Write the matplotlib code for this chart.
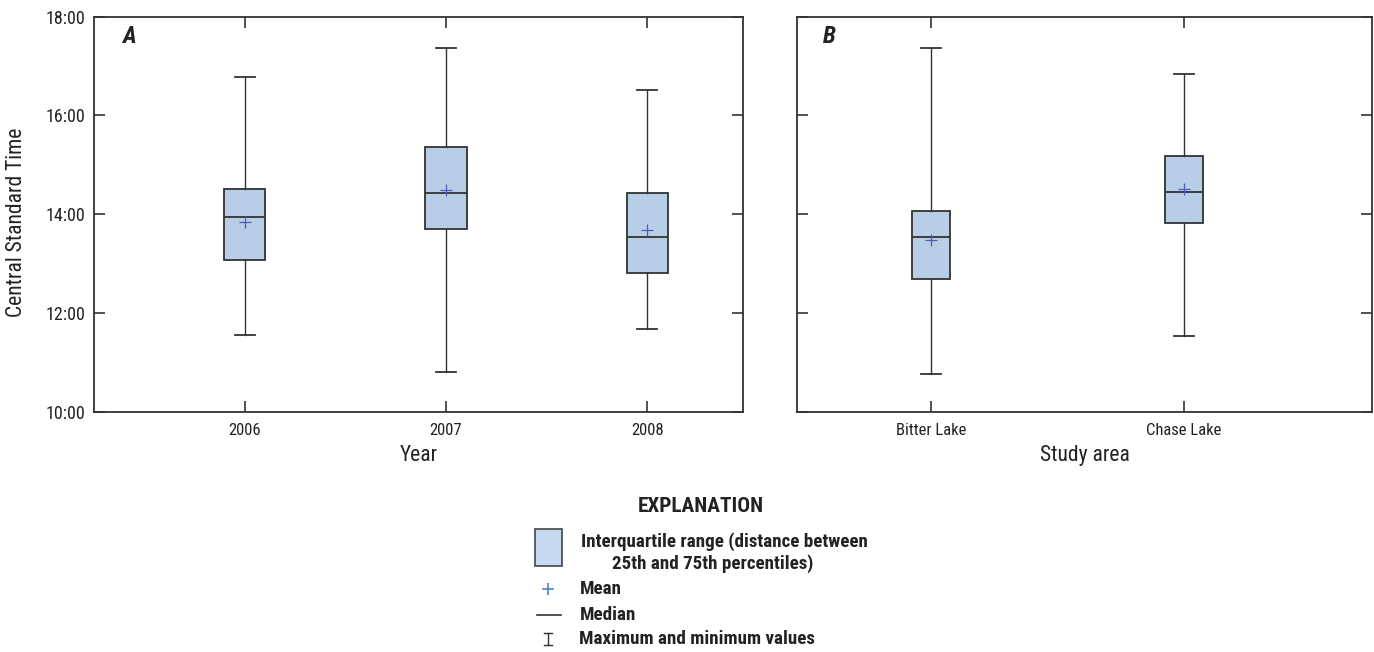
import matplotlib
matplotlib.use("Agg")
import matplotlib.pyplot as plt
from matplotlib.patches import Rectangle
from matplotlib.lines import Line2D
from matplotlib.ticker import FuncFormatter

# values in decimal hours
years = ["2006", "2007", "2008"]
year_min = [11.55, 10.80, 11.68]
year_q1 = [13.07, 13.70, 12.81]
year_med = [13.95, 14.42, 13.53]
year_q3 = [14.52, 15.36, 14.42]
year_max = [16.77, 17.37, 16.51]
year_mean = [13.85, 14.48, 13.67]

areas = ["Bitter Lake", "Chase Lake"]
area_min = [10.77, 11.54]
area_q1 = [12.69, 13.82]
area_med = [13.54, 14.44]
area_q3 = [14.06, 15.17]
area_max = [17.37, 16.84]
area_mean = [13.47, 14.51]

y_ticks = [10, 12, 14, 16, 18]

FONT = ["Liberation Sans Narrow", "Roboto Condensed", "DejaVu Sans"]
plt.rcParams["font.family"] = FONT

W, H = 1374, 652
BOX_FC = "#b8cee6"
EDGE = "#333333"
MEAN_C = "#4a5cc0"
TXT = "#222222"


def hhmm(v, pos=None):
    h = int(v)
    m = int(round((v - h) * 60))
    return f"{h}:{m:02d}"


def draw_boxes(ax, mins, q1, med, q3, maxs, means, width):
    stats = []
    for i in range(len(mins)):
        stats.append(dict(whislo=mins[i], q1=q1[i], med=med[i], q3=q3[i],
                          whishi=maxs[i], mean=means[i], fliers=[]))
    pos = list(range(1, len(mins) + 1))
    ax.bxp(stats, positions=pos, widths=width, patch_artist=True,
           showmeans=True, showfliers=False,
           boxprops=dict(facecolor=BOX_FC, edgecolor=EDGE, linewidth=1.3),
           medianprops=dict(color=EDGE, linewidth=1.3),
           whiskerprops=dict(color=EDGE, linewidth=1.0),
           capprops=dict(color=EDGE, linewidth=1.3),
           capwidths=width * 0.5,
           meanprops=dict(marker="+", markeredgecolor=MEAN_C, markersize=9,
                          markeredgewidth=0.9))
    return pos


def style_axis(ax):
    ax.set_ylim(10, 18)
    ax.set_yticks(y_ticks)
    ax.tick_params(direction="in", length=8, width=1.2, colors=EDGE,
                   top=True, right=True, labelcolor=TXT)
    ax.tick_params(axis="x", labelsize=12, pad=8)
    ax.tick_params(axis="y", labelsize=13, pad=6.5)
    for s in ax.spines.values():
        s.set_linewidth(1.3)
        s.set_color(EDGE)


fig = plt.figure(figsize=(W / 100, H / 100), dpi=100)

axA = fig.add_axes([94 / W, 1 - 411.7 / H, 648.7 / W, 395 / H])
pos = draw_boxes(axA, year_min, year_q1, year_med, year_q3, year_max, year_mean, 0.205)
axA.set_xlim(0.25, 3.475)
axA.set_xticks(pos)
axA.set_xticklabels(years)
style_axis(axA)
axA.yaxis.set_major_formatter(FuncFormatter(hhmm))
axA.set_xlabel("Year", fontsize=15.5, color=TXT)
axA.xaxis.set_label_coords(0.5, -0.085)
axA.set_ylabel("Central Standard Time", fontsize=15.5, color=TXT, va="center")
axA.yaxis.set_label_coords(-0.119, 0.48)
axA.text(35 / 648.7, 0.95, "A", transform=axA.transAxes, fontsize=17,
         fontweight="bold", fontstyle="italic", va="center", ha="center",
         color=TXT)

axB = fig.add_axes([797 / W, 1 - 411.7 / H, 575 / W, 395 / H])
pos = draw_boxes(axB, area_min, area_q1, area_med, area_q3, area_max, area_mean, 0.152)
axB.set_xlim(0.47, 2.743)
axB.set_xticks(pos)
axB.set_xticklabels(areas)
style_axis(axB)
axB.set_yticklabels([])
axB.set_xlabel("Study area", fontsize=15.5, color=TXT)
axB.xaxis.set_label_coords(0.5, -0.085)
axB.text(32 / 575, 0.95, "B", transform=axB.transAxes, fontsize=17,
         fontweight="bold", fontstyle="italic", va="center", ha="center",
         color=TXT)


# explanation block, placed in pixel coordinates
def fx(x):
    return x / W


def fy(y):
    return 1 - y / H


fig.text(fx(701), fy(507), "EXPLANATION", fontsize=15.3, fontweight="bold",
         ha="center", va="center", color=TXT)
fig.patches.append(Rectangle((fx(535), fy(566)), fx(27), 37 / H,
                             transform=fig.transFigure, facecolor="#c6d9f0",
                             edgecolor="#444444", linewidth=1.2))
fig.text(fx(581), fy(542), "Interquartile range (distance between",
         fontsize=13.7, fontweight="bold", va="center", color=TXT)
fig.text(fx(612), fy(564), "25th and 75th percentiles)",
         fontsize=13.7, fontweight="bold", va="center", color=TXT)
fig.lines.append(Line2D([fx(548)], [fy(589)], marker="+", markersize=9,
                        markeredgecolor="#4a86d0", markeredgewidth=1.2,
                        transform=fig.transFigure))
fig.text(fx(580), fy(589), "Mean", fontsize=13.7, fontweight="bold",
         va="center", color=TXT)
fig.lines.append(Line2D([fx(537), fx(561)], [fy(615), fy(615)], color="#333333",
                        linewidth=1.2, transform=fig.transFigure))
fig.text(fx(580), fy(615), "Median", fontsize=13.7, fontweight="bold",
         va="center", color=TXT)
fig.lines.append(Line2D([fx(548), fx(548)], [fy(633), fy(645)], color="#333333",
                        linewidth=1.0, transform=fig.transFigure))
fig.lines.append(Line2D([fx(544), fx(552)], [fy(633), fy(633)], color="#333333",
                        linewidth=1.0, transform=fig.transFigure))
fig.lines.append(Line2D([fx(544), fx(552)], [fy(645), fy(645)], color="#333333",
                        linewidth=1.0, transform=fig.transFigure))
fig.text(fx(579), fy(639), "Maximum and minimum values", fontsize=13.7,
         fontweight="bold", va="center", color=TXT)

fig.savefig("out.png", dpi=100)
